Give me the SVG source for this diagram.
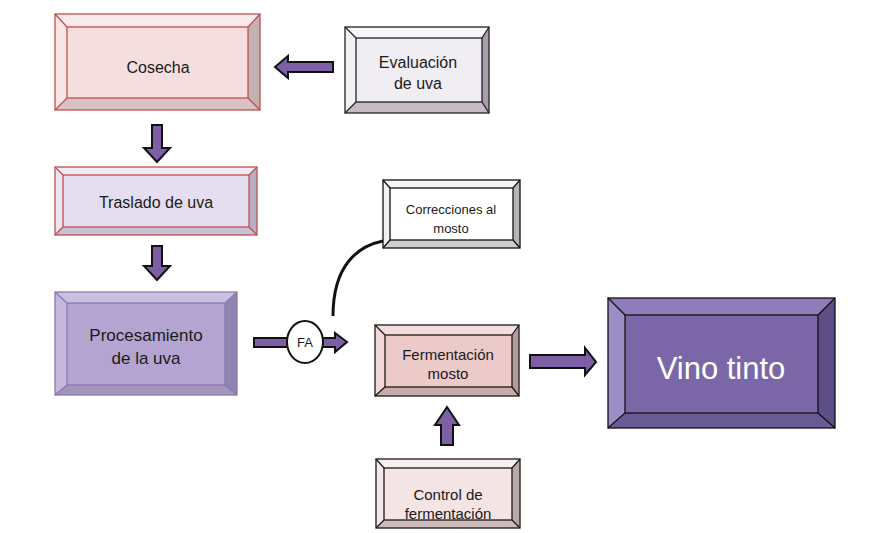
<svg xmlns="http://www.w3.org/2000/svg" width="870" height="533" viewBox="0 0 870 533">
  <style>
    .lbl { font-family: "Liberation Sans", Arial, sans-serif; fill: #1a1a1a; text-anchor: middle; }
    .edge { stroke-linejoin: miter; }
    .arrow { fill: #7d5fa6; stroke: #111; stroke-width: 2; stroke-linejoin: miter; }
    .diag { fill: none; stroke-width: 1.3; }
  </style>
  <rect width="870" height="533" fill="#ffffff"/>

  <!-- Cosecha -->
  <g id="cosecha">
    <rect x="55" y="14" width="205" height="96" fill="#f4dede"/>
    <polygon points="55,14 260,14 248,27 67,27" fill="#f8eaea"/>
    <polygon points="55,14 67,27 67,98 55,110" fill="#f6e6e6"/>
    <polygon points="260,14 260,110 248,98 248,27" fill="#c4b2b2"/>
    <polygon points="55,110 260,110 248,98 67,98" fill="#d6c2c2"/>
    <g stroke="#c0504d" class="diag">
      <rect x="55" y="14" width="205" height="96"/>
      <rect x="67" y="27" width="181" height="71"/>
      <path d="M55,14 L67,27 M260,14 L248,27 M55,110 L67,98 M260,110 L248,98"/>
    </g>
    <text class="lbl" x="158" y="73" font-size="16">Cosecha</text>
  </g>

  <!-- Evaluación de uva -->
  <g id="evaluacion">
    <rect x="345" y="27" width="144" height="86" fill="#f1eef3"/>
    <polygon points="345,27 489,27 482,38 356,38" fill="#f8f6f9"/>
    <polygon points="345,27 356,38 356,102 345,113" fill="#f4f2f6"/>
    <polygon points="489,27 489,113 482,102 482,38" fill="#a99fab"/>
    <polygon points="345,113 489,113 482,102 356,102" fill="#c4bbc6"/>
    <g stroke="#222" class="diag" stroke-width="1.8">
      <rect x="345" y="27" width="144" height="86"/>
      <rect x="356" y="38" width="126" height="64"/>
      <path d="M345,27 L356,38 M489,27 L482,38 M345,113 L356,102 M489,113 L482,102"/>
    </g>
    <text class="lbl" x="418" y="68" font-size="16">Evaluación</text>
    <text class="lbl" x="418" y="89" font-size="16">de uva</text>
  </g>

  <!-- Traslado de uva -->
  <g id="traslado">
    <rect x="55" y="167" width="202" height="68" fill="#e4def0"/>
    <polygon points="55,167 257,167 249,175 63,175" fill="#efeaf5"/>
    <polygon points="55,167 63,175 63,227 55,235" fill="#ebe6f3"/>
    <polygon points="257,167 257,235 249,227 249,175" fill="#b6aec4"/>
    <polygon points="55,235 257,235 249,227 63,227" fill="#c8c0d4"/>
    <g stroke="#c0504d" class="diag">
      <rect x="55" y="167" width="202" height="68"/>
      <rect x="63" y="175" width="186" height="52"/>
      <path d="M55,167 L63,175 M257,167 L249,175 M55,235 L63,227 M257,235 L249,227"/>
    </g>
    <text class="lbl" x="156" y="208" font-size="16">Traslado de uva</text>
  </g>

  <!-- Procesamiento de la uva -->
  <g id="procesamiento">
    <rect x="55" y="292" width="182" height="103" fill="#b3a4d2"/>
    <polygon points="55,292 237,292 225,303 67,303" fill="#cbc0e2"/>
    <polygon points="55,292 67,303 67,385 55,395" fill="#c4b8de"/>
    <polygon points="237,292 237,395 225,385 225,303" fill="#9284b0"/>
    <polygon points="55,395 237,395 225,385 67,385" fill="#a294be"/>
    <g stroke="#8a7aae" class="diag" stroke-width="1">
      <rect x="55" y="292" width="182" height="103"/>
      <rect x="67" y="303" width="158" height="82"/>
      <path d="M55,292 L67,303 M237,292 L225,303 M55,395 L67,385 M237,395 L225,385"/>
    </g>
    <text class="lbl" x="146" y="341" font-size="17">Procesamiento</text>
    <text class="lbl" x="146" y="364" font-size="17">de la uva</text>
  </g>

  <!-- Correcciones al mosto -->
  <g id="correcciones">
    <rect x="383" y="180" width="137" height="68" fill="#ffffff"/>
    <polygon points="383,180 520,180 513,188 390,188" fill="#f6f6f6"/>
    <polygon points="383,180 390,188 390,240 383,248" fill="#f1f1f1"/>
    <polygon points="520,180 520,248 513,240 513,188" fill="#b5b5b5"/>
    <polygon points="383,248 520,248 513,240 390,240" fill="#cdcdcd"/>
    <g stroke="#111" class="diag" stroke-width="2">
      <rect x="383" y="180" width="137" height="68"/>
      <rect x="390" y="188" width="123" height="52"/>
      <path d="M383,180 L390,188 M520,180 L513,188 M383,248 L390,240 M520,248 L513,240"/>
    </g>
    <text class="lbl" x="451" y="214" font-size="13">Correcciones al</text>
    <text class="lbl" x="451" y="233" font-size="13">mosto</text>
  </g>

  <!-- Fermentación mosto -->
  <g id="fermentacion">
    <rect x="375" y="325" width="144" height="71" fill="#eccaca"/>
    <polygon points="375,325 519,325 512,335 385,335" fill="#f4dddc"/>
    <polygon points="375,325 385,335 385,387 375,396" fill="#f1d7d6"/>
    <polygon points="519,325 519,396 512,387 512,335" fill="#b69b9a"/>
    <polygon points="375,396 519,396 512,387 385,387" fill="#c8abaa"/>
    <g stroke="#1a1a1a" class="diag" stroke-width="2">
      <rect x="375" y="325" width="144" height="71"/>
      <rect x="385" y="335" width="127" height="52"/>
      <path d="M375,325 L385,335 M519,325 L512,335 M375,396 L385,387 M519,396 L512,387"/>
    </g>
    <text class="lbl" x="448" y="360" font-size="15">Fermentación</text>
    <text class="lbl" x="448" y="379" font-size="15">mosto</text>
  </g>

  <!-- Control de fermentación -->
  <g id="control">
    <rect x="376" y="459" width="144" height="69" fill="#f4e4e4"/>
    <polygon points="376,459 520,459 512,468 384,468" fill="#f9eeee"/>
    <polygon points="376,459 384,468 384,520 376,528" fill="#f6e8e8"/>
    <polygon points="520,459 520,528 512,520 512,468" fill="#bba8a8"/>
    <polygon points="376,528 520,528 512,520 384,520" fill="#cdbaba"/>
    <g stroke="#1a1a1a" class="diag" stroke-width="2">
      <rect x="376" y="459" width="144" height="69"/>
      <rect x="384" y="468" width="128" height="52"/>
      <path d="M376,459 L384,468 M520,459 L512,468 M376,528 L384,520 M520,528 L512,520"/>
    </g>
    <text class="lbl" x="448" y="500" font-size="15">Control de</text>
    <text class="lbl" x="448" y="519" font-size="15">fermentación</text>
  </g>

  <!-- Vino tinto -->
  <g id="vino">
    <rect x="608" y="298" width="227" height="130" fill="#7b67a8"/>
    <polygon points="608,298 835,298 818,315 625,315" fill="#8f7cba"/>
    <polygon points="608,298 625,315 625,413 608,428" fill="#9d8dc6"/>
    <polygon points="835,298 835,428 818,413 818,315" fill="#5d4e86"/>
    <polygon points="608,428 835,428 818,413 625,413" fill="#6a5a93"/>
    <g stroke="#111" class="diag" stroke-width="2">
      <rect x="608" y="298" width="227" height="130"/>
      <rect x="625" y="315" width="193" height="98"/>
      <path d="M608,298 L625,315 M835,298 L818,315 M608,428 L625,413 M835,428 L818,413"/>
    </g>
    <text class="lbl" x="721" y="379" font-size="31" style="fill:#ffffff">Vino tinto</text>
  </g>

  <!-- Connectors -->
  <g id="connectors">
    <path class="arrow" d="M275,67 L288,56 L288,62 L333,62 L333,72 L288,72 L288,78 Z"/>
    <path class="arrow" d="M152,125 L162,125 L162,148 L170,148 L157,162 L144,148 L152,148 Z"/>
    <path class="arrow" d="M152,246 L162,246 L162,266 L170,266 L157,280 L144,266 L152,266 Z"/>
    <path class="arrow" d="M254,338 L335,338 L335,333 L347,342 L335,352 L335,347 L254,347 Z"/>
    <path class="arrow" d="M530,355 L585,355 L585,348 L596,362 L585,375 L585,368 L530,368 Z"/>
    <path class="arrow" d="M441,445 L441,425 L435,425 L447,407 L459,425 L453,425 L453,445 Z"/>
    <path d="M383,241 C358,246 333,265 333,316" fill="none" stroke="#111" stroke-width="3"/>
    <g id="fa">
      <ellipse cx="305" cy="342" rx="18" ry="21" fill="#ffffff" stroke="#111" stroke-width="2"/>
      <text class="lbl" x="305" y="347" font-size="13">FA</text>
    </g>
  </g>
</svg>
